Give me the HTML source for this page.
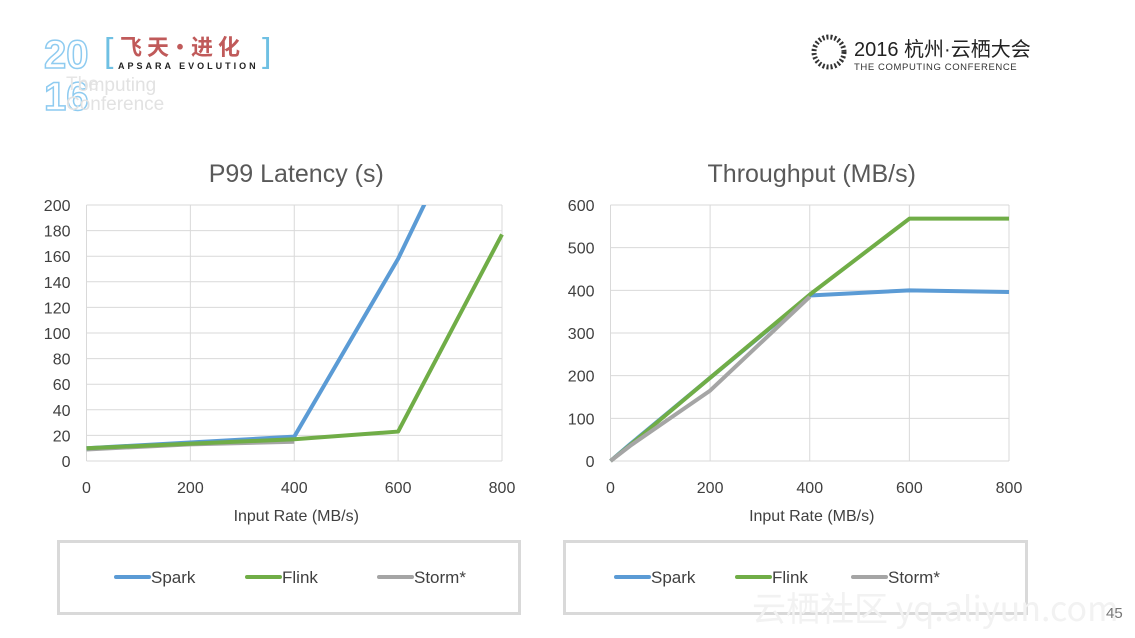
<!DOCTYPE html>
<html><head><meta charset="utf-8">
<style>
body{margin:0;width:1135px;height:638px;background:#fff;overflow:hidden;position:relative;font-family:"Liberation Sans","Noto Sans CJK SC",sans-serif;}
svg{position:absolute;left:0;top:0}
</style></head><body>
<svg id="s" width="1135" height="638">
  <g>
    <text x="44" y="68" font-size="40" fill="none" stroke="#8ecbf0" stroke-width="1.5" font-weight="bold">20</text>
    <text x="44" y="110" font-size="40" fill="none" stroke="#8ecbf0" stroke-width="1.5" font-weight="bold">16</text>
    <text x="66" y="90" font-size="19" fill="#e6e6e6">The</text>
    <text x="78" y="91" font-size="19" fill="#e2e2e2">omputing</text>
    <text x="66" y="110" font-size="19" fill="#e2e2e2">Conference</text>
    <text x="104" y="62" font-size="34" fill="#6fc0e3">[</text>
    <text x="262" y="62" font-size="34" fill="#6fc0e3">]</text>
    <text x="120" y="55" font-size="22" fill="#c05a5a" font-family="Noto Sans CJK SC,sans-serif" font-weight="bold">飞 天·进 化</text>
    <text x="118" y="69" font-size="9" fill="#222" font-weight="bold" letter-spacing="3">APSARA EVOLUTION</text>
  </g>
  <g>
    <circle cx="829" cy="52" r="15" fill="none" stroke="#333" stroke-width="5" stroke-dasharray="2 2"/>
    <text x="854" y="56" font-size="20" fill="#222" font-family="Liberation Sans,Noto Sans CJK SC,sans-serif">2016 杭州·云栖大会</text>
    <text x="854" y="70" font-size="9.5" fill="#333" letter-spacing="0.6">THE COMPUTING CONFERENCE</text>
  </g>
  <rect x="58.5" y="541.5" width="461" height="72" fill="none" stroke="#d9d9d9" stroke-width="3"/>
  <rect x="564.5" y="541.5" width="462" height="72" fill="none" stroke="#d9d9d9" stroke-width="3"/>
  <text x="752" y="621" font-size="34" fill="#f2f2f2" font-family="Noto Sans CJK SC,sans-serif">云栖社区 yq.aliyun.com</text>
  <text x="1106" y="618" font-size="15" fill="#777">45</text>
</svg>
<script>
const xTicks=[0,200,400,600,800];
const latTicks=[0,20,40,60,80,100,120,140,160,180,200];
const thrTicks=[0,100,200,300,400,500,600];
const latSparkX=[0,400,600,800];
const latSparkY=[10,19,158,326];
const latFlinkX=[0,400,600,800];
const latFlinkY=[10,17,23,177];
const latStormX=[0,200,400];
const latStormY=[9,13,15];
const thrSparkX=[0,40,200,400,600,800];
const thrSparkY=[0,40,195,388,400,396];
const thrFlinkX=[0,40,200,400,600,800];
const thrFlinkY=[0,38,195,390,568,568];
const thrStormX=[0,40,200,400];
const thrStormY=[0,36,165,385];
const colors={Spark:"#5b9bd5",Flink:"#70ad47",Storm:"#a5a5a5"};
const NS="http://www.w3.org/2000/svg";
const svg=document.getElementById('s');
function mk(t,a,p){const e=document.createElementNS(NS,t);for(const k in a)e.setAttribute(k,a[k]);(p||svg).appendChild(e);return e;}
function chart(id,x0,x1,y0,y1,ymax,yTicks,title,series,legendXs){
  const g=mk('g',{});
  
  
  const sx=v=>x0+(x1-x0)*v/800, sy=v=>y0-(y0-y1)*v/ymax;
  const cid=id+'-clip';
  const cp=mk('clipPath',{id:cid},g);mk('rect',{x:x0-3,y:y1,width:x1-x0+6,height:y0-y1+3},cp);
  yTicks.forEach(v=>{const l=mk('line',{x1:x0,x2:x1,y1:sy(v),y2:sy(v),stroke:'#d9d9d9','stroke-width':1},g);
    
    const t=mk('text',{x:x0-16,y:sy(v)+6,'text-anchor':'end','font-size':16,fill:'#404040'},g);t.textContent=v;
    });
  xTicks.forEach(v=>{const l=mk('line',{x1:sx(v),x2:sx(v),y1:y1,y2:y0,stroke:'#d9d9d9','stroke-width':1},g);
    
    const t=mk('text',{x:sx(v),y:y0+32,'text-anchor':'middle','font-size':16,fill:'#404040'},g);t.textContent=v;
    });
  const tt=mk('text',{x:(x0+x1)/2+2,y:182,'text-anchor':'middle','font-size':25,fill:'#595959'},g);tt.textContent=title;
  
  const xt=mk('text',{x:(x0+x1)/2+2,y:521,'text-anchor':'middle','font-size':16,fill:'#404040'},g);xt.textContent='Input Rate (MB/s)';
  
  series.forEach(s=>{const p=mk('polyline',{points:s.x.map((v,i)=>sx(v)+','+sy(s.y[i])).join(' '),fill:'none',stroke:colors[s.n],'stroke-width':4,'stroke-linejoin':'round','clip-path':'url(#'+cid+')'},g);
    });
  const names=['Spark','Flink','Storm'],labels=['Spark','Flink','Storm*'];
  names.forEach((n,i)=>{const lx=legendXs[i];
    const l=mk('line',{x1:lx,x2:lx+33,y1:577,y2:577,stroke:colors[n],'stroke-width':4,'stroke-linecap':'round'},g);
    
    const t=mk('text',{x:lx+35,y:583,'font-size':17,fill:'#404040'},g);t.textContent=labels[i];
    });
}
chart('latency-chart',86.5,502,461,205,200,latTicks,'P99 Latency (s)',
  [{n:'Storm',x:latStormX,y:latStormY},{n:'Spark',x:latSparkX,y:latSparkY},{n:'Flink',x:latFlinkX,y:latFlinkY}],[116,247,379]);
chart('throughput-chart',610.5,1009,461,205,600,thrTicks,'Throughput (MB/s)',
  [{n:'Spark',x:thrSparkX,y:thrSparkY},{n:'Flink',x:thrFlinkX,y:thrFlinkY},{n:'Storm',x:thrStormX,y:thrStormY}],[616,737,853]);
</script>
</body></html>
